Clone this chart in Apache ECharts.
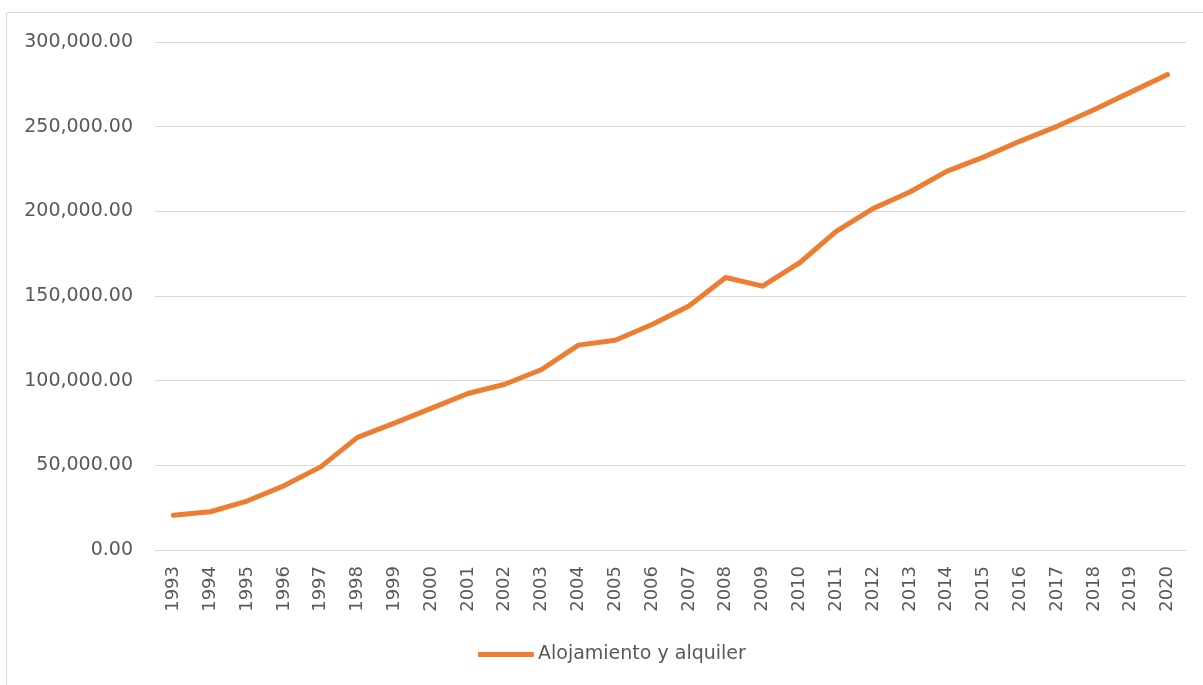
<!DOCTYPE html>
<html>
<head>
<meta charset="utf-8">
<script src="https://cdn.jsdelivr.net/npm/echarts@6/dist/echarts.min.js"></script>
<style>
  html, body { margin: 0; padding: 0; background: #fff; }
  #chart { width: 1203px; height: 685px; }
</style>
</head>
<body>
<div id="chart"></div>
<script>
// years on the category axis
const years = ['1993', '1994', '1995', '1996', '1997', '1998', '1999', '2000', '2001', '2002',
  '2003', '2004', '2005', '2006', '2007', '2008', '2009', '2010', '2011', '2012',
  '2013', '2014', '2015', '2016', '2017', '2018', '2019', '2020']

// values
const alojamiento = [20500, 22600, 28900, 37900, 49100, 66500, 74900, 83600, 92400, 97900,
  106600, 121000, 123900, 133200, 144100, 160900, 155800, 169500, 188200, 201600,
  211400, 223600, 232000, 241500, 250200, 260000, 270400, 280800]

const seriesName = 'Alojamiento y alquiler'

const textColor = '#595959'
const gridColor = '#d9d9d9'
const lineColor = '#ED7D31'
const font = 'DejaVu Sans'

const myChart = echarts.init(document.getElementById('chart'))

myChart.setOption({
  animation: false,
  backgroundColor: '#fff',
  textStyle: { fontFamily: font },
  graphic: [
    {
      type: 'rect',
      shape: { x: 6.5, y: 12.5, width: 1210, height: 700 },
      style: { fill: 'none', stroke: gridColor, lineWidth: 1 },
      silent: true
    }
  ],
  grid: {
    left: 155,
    right: 17,
    top: 42,
    bottom: 135
  },
  legend: {
    left: 478,
    top: 645,
    padding: 0,
    icon: 'roundRect',
    itemWidth: 56,
    itemHeight: 5,
    itemStyle: { color: lineColor, borderWidth: 0 },
    textStyle: { color: textColor, fontSize: 19, fontFamily: font, padding: [0, 0, 0, -1] },
    data: [seriesName]
  },
  xAxis: {
    type: 'category',
    data: years,
    boundaryGap: true,
    axisLine: { lineStyle: { color: gridColor, width: 1 } },
    axisTick: { show: false },
    axisLabel: {
      rotate: 90,
      margin: 16,
      color: textColor,
      fontSize: 18,
      fontFamily: font
    }
  },
  yAxis: {
    type: 'value',
    min: 0,
    max: 300000,
    interval: 50000,
    axisLine: { show: false },
    axisTick: { show: false },
    splitLine: { lineStyle: { color: gridColor, width: 1 } },
    axisLabel: {
      margin: 22,
      color: textColor,
      fontSize: 19,
      fontFamily: font,
      formatter: v => v.toLocaleString('en-US', { minimumFractionDigits: 2, maximumFractionDigits: 2 })
    }
  },
  series: [
    {
      name: seriesName,
      type: 'line',
      data: alojamiento,
      symbol: 'none',
      lineStyle: { color: lineColor, width: 5, cap: 'round', join: 'round' },
      itemStyle: { color: lineColor }
    }
  ]
})
</script>
</body>
</html>
